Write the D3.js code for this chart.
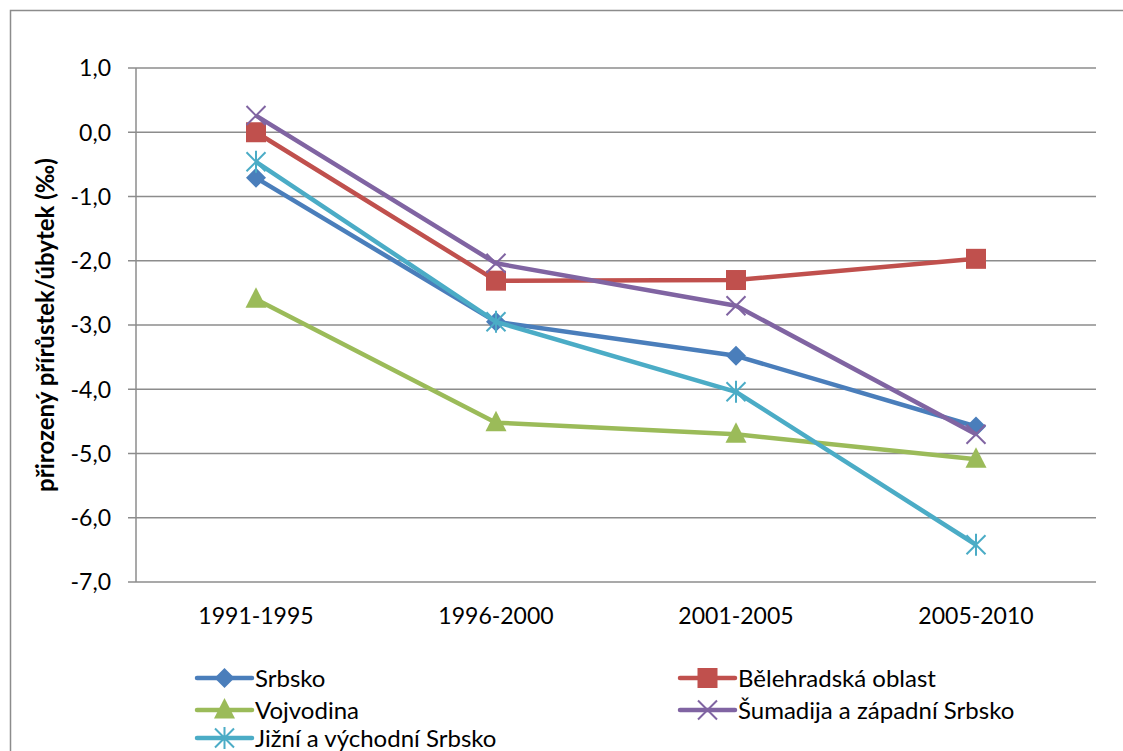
<!DOCTYPE html>
<html><head><meta charset="utf-8">
<script src="https://cdn.jsdelivr.net/npm/d3@7"></script>
<style>body{margin:0;background:#fff;}svg{display:block;font-family:Lato,"Open Sans",sans-serif;}</style>
</head><body>
<svg id="c" width="1123" height="751"></svg>
<script>
const categories = ["1991-1995","1996-2000","2001-2005","2005-2010"];
const seriesNames = ["Srbsko","Bělehradská oblast","Vojvodina","Šumadija a západní Srbsko","Jižní a východní Srbsko"];
const srbsko   = [-0.71,-2.95,-3.48,-4.58];
const belehrad = [0.0,-2.31,-2.30,-1.97];
const vojvodina= [-2.6,-4.52,-4.70,-5.09];
const sumadija = [0.26,-2.04,-2.70,-4.70];
const jizni    = [-0.46,-2.95,-4.04,-6.42];
const yTicks = [1,0,-1,-2,-3,-4,-5,-6,-7];
const yTickLabels = ["1,0","0,0","-1,0","-2,0","-3,0","-4,0","-5,0","-6,0","-7,0"];
const yTitle = "přirozený přírůstek/úbytek (‰)";

const colors = ["#4A7EBB","#C0504D","#9BBB59","#8064A2","#4BACC6"];
const markers = ["diamond","square","triangle","x","star"];
const values = [srbsko,belehrad,vojvodina,sumadija,jizni];

const svg = d3.select("#c");
svg.append("rect").attr("x",10.5).attr("y",10.5).attr("width",1130).attr("height",760)
  .attr("fill","none").attr("stroke","#8c8c8c").attr("stroke-width",1.5);

const L=136, R=1096, T=68, B=582;
const x = d3.scaleBand().domain(categories).range([L,R]);
const y = d3.scaleLinear().domain([-7,1]).range([B,T]);

svg.append("g").selectAll("line").data(yTicks).join("line")
  .attr("x1",128).attr("x2",R).attr("y1",d=>y(d)).attr("y2",d=>y(d))
  .attr("stroke","#8c8c8c").attr("stroke-width",1.5);
svg.append("line").attr("x1",L).attr("x2",L).attr("y1",T).attr("y2",B)
  .attr("stroke","#8c8c8c").attr("stroke-width",1.5);

svg.append("g").selectAll("text").data(yTicks).join("text")
  .attr("x",111).attr("y",d=>y(d)).attr("dy","0.36em").attr("text-anchor","end")
  .attr("font-size",23).attr("fill","#000").text((d,i)=>yTickLabels[i]);
svg.append("g").selectAll("text").data(categories).join("text")
  .attr("x",d=>x(d)+x.bandwidth()/2).attr("y",624).attr("text-anchor","middle")
  .attr("font-size",23).attr("fill","#000").text(d=>d);
svg.append("text").attr("transform","translate(54,325) rotate(-90)")
  .attr("text-anchor","middle").attr("font-size",24).attr("font-weight","bold").text(yTitle);

function drawMarker(g,type,cx,cy,col){
  if(type==="diamond"){
    g.append("path").attr("d",`M${cx},${cy-10}L${cx+10},${cy}L${cx},${cy+10}L${cx-10},${cy}Z`).attr("fill",col);
  } else if(type==="square"){
    g.append("rect").attr("x",cx-10).attr("y",cy-10).attr("width",20).attr("height",20).attr("fill",col);
  } else if(type==="triangle"){
    g.append("path").attr("d",`M${cx},${cy-12}L${cx+10.5},${cy+8.5}L${cx-10.5},${cy+8.5}Z`).attr("fill",col);
  } else if(type==="x"){
    g.append("path").attr("d",`M${cx-9.5},${cy-9.5}L${cx+9.5},${cy+9.5}M${cx-9.5},${cy+9.5}L${cx+9.5},${cy-9.5}`).attr("stroke",col).attr("stroke-width",2).attr("fill","none");
  } else if(type==="star"){
    g.append("path").attr("d",`M${cx-9.5},${cy-9.5}L${cx+9.5},${cy+9.5}M${cx-9.5},${cy+9.5}L${cx+9.5},${cy-9.5}M${cx},${cy-11}L${cx},${cy+11}`).attr("stroke",col).attr("stroke-width",2).attr("fill","none");
  }
}

const line = d3.line().x((d,i)=>x(categories[i])+x.bandwidth()/2).y(d=>y(d));
values.forEach((vals,si)=>{
  const g = svg.append("g");
  g.append("path").datum(vals).attr("d",line).attr("fill","none")
    .attr("stroke",colors[si]).attr("stroke-width",4.5).attr("stroke-linejoin","round");
  vals.forEach((v,i)=>drawMarker(g,markers[si],x(categories[i])+x.bandwidth()/2,y(v),colors[si]));
});

const legPos = [[197,678],[680,678],[197,710],[680,710],[197,738]];
seriesNames.forEach((n,si)=>{
  const [lx,ly]=legPos[si];
  const g=svg.append("g");
  g.append("line").attr("x1",lx).attr("x2",lx+55).attr("y1",ly).attr("y2",ly)
    .attr("stroke",colors[si]).attr("stroke-width",4.5).attr("stroke-linecap","round");
  drawMarker(g,markers[si],lx+27.5,ly,colors[si]);
  g.append("text").attr("x",lx+58).attr("y",ly).attr("dy","0.36em")
    .attr("font-size",24).attr("fill","#000").text(n);
});
</script>
</body></html>
